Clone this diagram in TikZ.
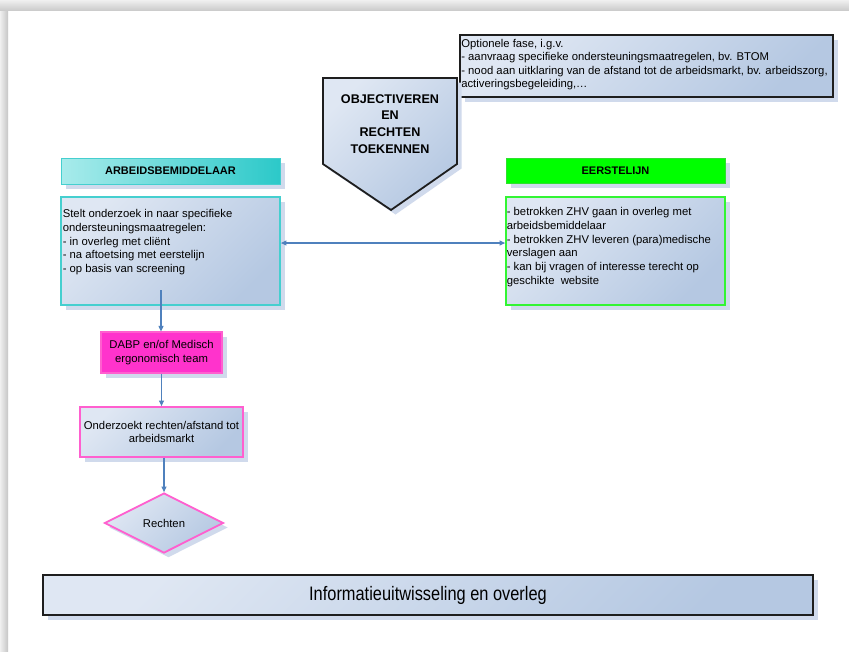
\documentclass[tikz,border=0pt]{standalone}
\usepackage{fontspec}
\usepackage{graphicx}
\setmainfont{Liberation Sans}
\usetikzlibrary{arrows.meta,shadows,shapes.geometric,calc}

\definecolor{boxL}{HTML}{DFE7F3}
\definecolor{boxR}{HTML}{B5C8E2}
\definecolor{shadowblue}{HTML}{D0DAEC}
\definecolor{darkline}{HTML}{1E1E1E}
\definecolor{tealL}{HTML}{A8EBEB}
\definecolor{tealR}{HTML}{2CC9C9}
\definecolor{tealline}{HTML}{45CFCF}
\definecolor{greenfill}{HTML}{00FF00}
\definecolor{greenline}{HTML}{2FE02F}
\definecolor{greenbody}{HTML}{33F533}
\definecolor{pinkfill}{HTML}{FF33CC}
\definecolor{pinkline}{HTML}{FF5FCF}
\definecolor{connblue}{HTML}{4F81BD}

\tikzset{
  softshadow/.style={drop shadow={shadow xshift=4.5pt, shadow yshift=-4.5pt, fill=shadowblue, opacity=1}},
  bluegrad/.style={top color=boxL, bottom color=boxR, shading angle=45},
  boxbase/.style={rectangle, inner sep=0pt, softshadow},
  bodytext/.style={inner sep=0pt, anchor=north west, align=left,
    font=\fontsize{11.3}{13.8}\selectfont},
  centertext/.style={inner sep=0pt, align=center,
    font=\fontsize{11.3}{13.3}\selectfont},
  headtext/.style={font=\bfseries\fontsize{11}{13}\selectfont},
  conn/.style={draw=connblue, line width=1.1pt, -{Triangle[length=5.5pt,width=5pt]}},
  dconn/.style={draw=connblue, line width=1.1pt, {Triangle[length=5.5pt,width=5pt]}-{Triangle[length=5.5pt,width=5pt]}},
}

\begin{document}
\begin{tikzpicture}[x=1pt,y=-1pt]
\useasboundingbox (0,0) rectangle (849,651);

% page with shaded top and left edge
\fill[white] (0,0) rectangle (849,651);
\shade[left color=gray!12, right color=gray!45] (0,0) rectangle (8,651);
\shade[top color=gray!12, bottom color=gray!40] (0,0) rectangle (849,10);

% optional phase note
\node[boxbase, bluegrad, draw=darkline, line width=1.8pt,
      minimum width=373pt, minimum height=62pt] (note) at (646.5,66) {};
\node[bodytext, font=\fontsize{11.3}{13.4}\selectfont] (notetext)
  at ([xshift=2pt,yshift=-5pt]note.north west)
  {Optionele fase, i.g.v.\\
   - aanvraag specifieke ondersteuningsmaatregelen, bv. BTOM\\
   - nood aan uitklaring van de afstand tot de arbeidsmarkt, bv. arbeidszorg,\\
   activeringsbegeleiding,\ldots};

% phase arrow
\draw[bluegrad, draw=darkline, line width=1.8pt, softshadow]
  (323,78) -- (457,78) -- (457,164) -- (391,210) -- (323,164) -- cycle;
\node[align=center, inner sep=0pt, font=\bfseries\fontsize{12.6}{16.8}\selectfont]
  (phase) at (390,124) {OBJECTIVEREN\\EN\\RECHTEN\\TOEKENNEN};

% left column header and body
\node[boxbase, left color=tealL, right color=tealR, draw=tealline, line width=0.8pt,
      minimum width=219pt, minimum height=26pt, headtext] (arb) at (170.5,171)
  {ARBEIDSBEMIDDELAAR};
\node[boxbase, bluegrad, draw=tealline, line width=1.8pt,
      minimum width=219pt, minimum height=108pt] (lbody) at (170.5,251) {};
\node[bodytext] (lbodytext) at ([xshift=2.5pt,yshift=-13pt]lbody.north west)
  {Stelt onderzoek in naar specifieke\\
   ondersteuningsmaatregelen:\\
   - in overleg met cliënt\\
   - na aftoetsing met eerstelijn\\
   - op basis van screening};

% right column header and body
\node[boxbase, fill=greenfill, draw=greenline, line width=0.8pt,
      minimum width=219pt, minimum height=25pt, headtext] (eerst) at (615.5,170.5)
  {EERSTELIJN};
\node[boxbase, bluegrad, draw=greenbody, line width=1.8pt,
      minimum width=219pt, minimum height=108pt] (rbody) at (615.5,251) {};
\node[bodytext] (rbodytext) at ([xshift=1.5pt,yshift=-11pt]rbody.north west)
  {- betrokken ZHV gaan in overleg met\\
   arbeidsbemiddelaar\\
   - betrokken ZHV leveren (para)medische\\
   verslagen aan\\
   - kan bij vragen of interesse terecht op\\
   geschikte\ \ website};

% flow on the left
\node[boxbase, fill=pinkfill, draw=pinkline, line width=1.2pt,
      minimum width=121pt, minimum height=41pt, centertext] (dabp) at (161.5,352.5)
  {DABP en/of Medisch\\ergonomisch team};
\node[boxbase, bluegrad, draw=pinkline, line width=1.8pt,
      minimum width=163pt, minimum height=50pt, centertext] (onderz) at (161.5,432)
  {Onderzoekt rechten/afstand tot\\arbeidsmarkt};
\node[diamond, inner sep=0pt, aspect=2, bluegrad, draw=pinkline, line width=1.8pt,
      softshadow, minimum width=119pt, minimum height=60pt, centertext] (recht) at (164,523)
  {Rechten};

% bottom bar
\node[boxbase, bluegrad, draw=darkline, line width=1.8pt,
      minimum width=770pt, minimum height=40pt] (info) at (428,595)
  {\fontsize{19.5}{22}\selectfont\scalebox{0.84}[1]{Informatieuitwisseling en overleg}};

% connectors
\coordinate (lstart) at (161,290);
\draw[dconn] ([yshift=8pt]lbody.east) -- ([yshift=8pt]rbody.west);
\draw[conn] (lstart) -- (lstart |- dabp.north);
\draw[conn] (dabp.south) -- (onderz.north);
\draw[conn] (recht.north |- onderz.south) -- (recht.north);

\end{tikzpicture}
\end{document}
